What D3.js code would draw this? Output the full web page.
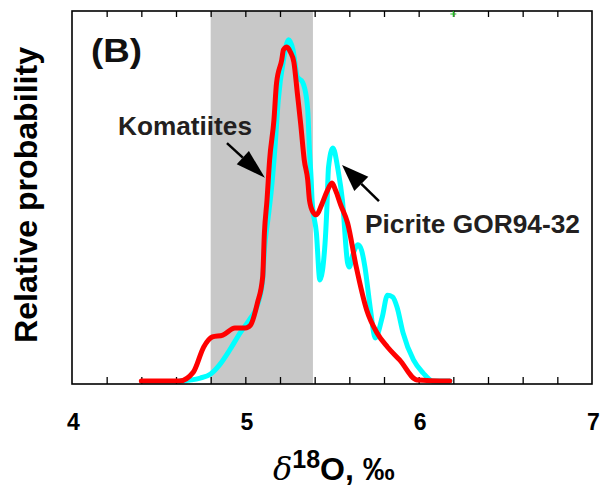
<!DOCTYPE html>
<html>
<head>
<meta charset="utf-8">
<script src="https://cdn.jsdelivr.net/npm/d3@7"></script>
<style>
  body { margin: 0; background: #fff; }
  svg { display: block; font-family: "Liberation Sans", Arial, sans-serif; }
</style>
</head>
<body>
<div id="chart"></div>
<script>
// d18O values (permil) and relative probability
var komatiiteX = [4.40,4.62,4.70,4.76,4.81,4.87,4.94,5.00,5.03,5.07,5.10,5.11,5.125,5.14,5.165,5.18,5.21,5.22,5.24,5.26,5.28,5.30,5.32,5.34,5.36,5.37,5.39,5.41,5.44,5.47,5.50,5.52,5.55,5.59,5.64,5.70,5.76,5.82,5.89,5.99,6.18];
var komatiiteY = [0,0,2.4,9.2,11.9,12.4,14.3,14.3,15.1,21.1,28.1,40.0,48.9,59.7,70.5,80.5,86.8,89.5,90.3,88.9,86.2,77.8,69.2,59.7,54.3,48.9,45.7,44.9,47.6,51.1,53.5,51.6,47.6,42.7,30.8,19.2,13.0,9.2,5.7,0.3,0];

var picriteX = [4.62,4.74,4.80,4.85,4.91,4.97,5.03,5.07,5.10,5.11,5.13,5.15,5.17,5.19,5.22,5.25,5.275,5.30,5.33,5.34,5.36,5.37,5.38,5.385,5.41,5.43,5.46,5.47,5.48,5.505,5.535,5.56,5.59,5.60,5.62,5.65,5.67,5.69,5.72,5.75,5.79,5.82,5.85,5.875,5.91,5.97,6.025,6.08,6.18];
var picriteY = [0,0.8,1.9,4.3,8.4,13.0,17.0,20.5,27.3,35.4,43.5,51.6,62.4,75.9,86.8,92.2,89.5,82.2,80.8,79.5,73.2,62.4,54.3,48.9,40.0,27.3,37.3,46.2,57.8,63.0,57.0,48.9,31.9,30.8,34.1,36.8,35.4,30.8,20.0,11.6,17.3,23.2,22.7,20.0,13.0,5.7,2.2,0,0];

var mantleBand = [4.8, 5.39];
var majorTicks = [4, 5, 6, 7];
var minorTicks = [4.2,4.4,4.6,4.8,5.0,5.2,5.4,5.6,5.8,6.0,6.2,6.4,6.6,6.8];

var W = 603, H = 491;
var plotL = 72, plotR = 592, plotT = 11, plotB = 384;

var x = d3.scaleLinear().domain([4, 7]).range([plotL, plotR]);
var y = d3.scaleLinear().domain([0, 100]).range([381, plotT]);

var svg = d3.select("#chart").append("svg")
  .attr("width", W)
  .attr("height", H);

// gray band
svg.append("rect")
  .attr("x", x(mantleBand[0]))
  .attr("y", plotT)
  .attr("width", x(mantleBand[1]) - x(mantleBand[0]))
  .attr("height", plotB - plotT)
  .attr("fill", "#c8c8c8");

// minor ticks, pointing inward
svg.append("g")
  .attr("transform", "translate(0," + plotB + ")")
  .call(d3.axisBottom(x).tickValues(minorTicks).tickSize(-7).tickFormat(""))
  .call(function (g) { g.select(".domain").remove(); })
  .selectAll("line").attr("stroke", "#000").attr("stroke-width", 1.3);

svg.append("g")
  .attr("transform", "translate(0," + plotT + ")")
  .call(d3.axisTop(x).tickValues(minorTicks).tickSize(-6).tickFormat(""))
  .call(function (g) { g.select(".domain").remove(); })
  .selectAll("line").attr("stroke", "#000").attr("stroke-width", 1.3);

// tick labels
var lab = svg.append("g")
  .attr("transform", "translate(1," + plotB + ")")
  .call(d3.axisBottom(x).tickValues(majorTicks).tickSize(0).tickPadding(30).tickFormat(d3.format("d")));
lab.select(".domain").remove();
lab.attr("font-size", 23).attr("font-family", "Liberation Sans, Arial, sans-serif");
lab.selectAll("text")
  .attr("font-weight", "bold")
  .attr("fill", "#000");

var line = d3.line()
  .x(function (d) { return x(d[0]); })
  .y(function (d) { return y(d[1]); })
  .curve(d3.curveMonotoneX);

var picrite = picriteX.map(function (v, i) { return [v, picriteY[i]]; });
var komatiite = komatiiteX.map(function (v, i) { return [v, komatiiteY[i]]; });

svg.append("path")
  .datum(picrite)
  .attr("d", line)
  .attr("fill", "none")
  .attr("stroke", "#00ffff")
  .attr("stroke-width", 5)
  .attr("stroke-linejoin", "round")
  .attr("stroke-linecap", "round");

svg.append("path")
  .datum(komatiite)
  .attr("d", line)
  .attr("fill", "none")
  .attr("stroke", "#ff0000")
  .attr("stroke-width", 5)
  .attr("stroke-linejoin", "round")
  .attr("stroke-linecap", "round");

// frame
svg.append("rect")
  .attr("x", plotL)
  .attr("y", plotT)
  .attr("width", plotR - plotL)
  .attr("height", plotB - plotT)
  .attr("fill", "none")
  .attr("stroke", "#000")
  .attr("stroke-width", 1.6);

// small green marks at 6.2
svg.append("path")
  .attr("d", "M" + (x(6.2) - 3) + "," + (plotT + 3) + "h6M" + x(6.2) + "," + plotT + "v6")
  .attr("stroke", "#22bb22").attr("stroke-width", 1.2);

// arrows
function arrow(x0, y0, x1, y1, len, half) {
  var sx = x(x0), sy = y(y0), tx = x(x1), ty = y(y1);
  var dx = tx - sx, dy = ty - sy, d = Math.sqrt(dx * dx + dy * dy);
  var ux = dx / d, uy = dy / d;
  var bx = tx - ux * len, by = ty - uy * len;
  svg.append("line")
    .attr("x1", sx).attr("y1", sy).attr("x2", bx).attr("y2", by)
    .attr("stroke", "#000").attr("stroke-width", 2.5);
  svg.append("path")
    .attr("d", "M" + tx + "," + ty +
      "L" + (bx - uy * half) + "," + (by + ux * half) +
      "L" + (bx + uy * half) + "," + (by - ux * half) + "Z")
    .attr("fill", "#000");
}
arrow(4.894, 64.3, 5.113, 54.9, 30, 9);
arrow(5.771, 48.6, 5.558, 58.4, 27, 10);

// labels
svg.append("text")
  .attr("x", 91).attr("y", 62)
  .attr("font-size", 33).attr("font-weight", "bold")
  .attr("textLength", 51).attr("lengthAdjust", "spacingAndGlyphs")
  .attr("fill", "#111")
  .text("(B)");

svg.append("text")
  .attr("x", 118).attr("y", 135)
  .attr("font-size", 25).attr("font-weight", "bold")
  .attr("textLength", 134).attr("lengthAdjust", "spacingAndGlyphs")
  .attr("fill", "#231f20")
  .text("Komatiites");

svg.append("text")
  .attr("x", 365).attr("y", 233)
  .attr("font-size", 25).attr("font-weight", "bold")
  .attr("textLength", 215).attr("lengthAdjust", "spacingAndGlyphs")
  .attr("fill", "#231f20")
  .text("Picrite GOR94-32");

svg.append("text")
  .attr("transform", "translate(37,195) rotate(-90)")
  .attr("text-anchor", "middle")
  .attr("font-size", 31).attr("font-weight", "bold")
  .attr("textLength", 296).attr("lengthAdjust", "spacingAndGlyphs")
  .attr("fill", "#000")
  .text("Relative probability");

var title = svg.append("text")
  .attr("x", 273).attr("y", 480)
  .attr("fill", "#000");
title.append("tspan")
  .attr("font-size", 32).attr("font-style", "italic")
  .attr("font-family", "DejaVu Serif, serif")
  .text("δ");
title.append("tspan")
  .attr("font-size", 25).attr("font-weight", "bold")
  .attr("dy", -12)
  .text("18");
title.append("tspan")
  .attr("font-size", 32).attr("font-weight", "bold")
  .attr("dy", 12)
  .text("O, ‰");
</script>
</body>
</html>
